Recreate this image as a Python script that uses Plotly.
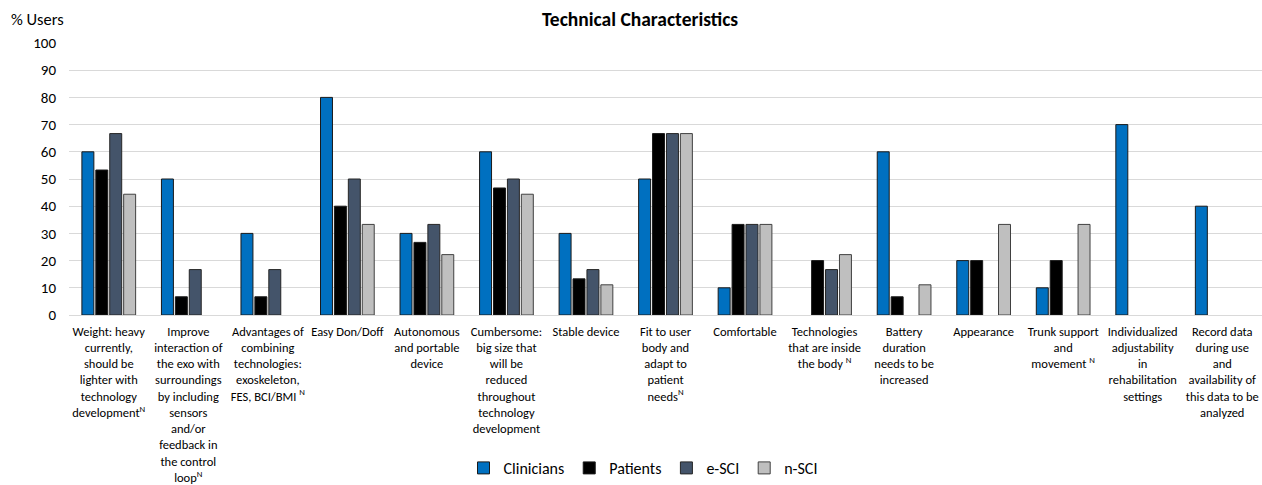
import plotly.graph_objects as go

# Technical characteristics of exoskeleton technologies, % of users per group
categories = [
    "Weight: heavy<br>currently,<br>should be<br>lighter with<br>technology<br>development<sup>N</sup>",
    "Improve<br>interaction of<br>the exo with<br>surroundings<br>by including<br>sensors<br>and/or<br>feedback in<br>the control<br>loop<sup>N</sup>",
    "Advantages of<br>combining<br>technologies:<br>exoskeleton,<br>FES, BCI/BMI <sup>N</sup>",
    "Easy Don/Doff",
    "Autonomous<br>and portable<br>device",
    "Cumbersome:<br>big size that<br>will be<br>reduced<br>throughout<br>technology<br>development",
    "Stable device",
    "Fit to user<br>body and<br>adapt to<br>patient<br>needs<sup>N</sup>",
    "Comfortable",
    "Technologies<br>that are inside<br>the body <sup>N</sup>",
    "Battery<br>duration<br>needs to be<br>increased",
    "Appearance",
    "Trunk support<br>and<br>movement <sup>N</sup>",
    "Individualized<br>adjustability<br>in<br>rehabilitation<br>settings",
    "Record data<br>during use<br>and<br>availability of<br>this data to be<br>analyzed",
]

clinicians = [60, 50, 30, 80, 30, 60, 30, 50, 10, 0, 60, 20, 10, 70, 40]
patients = [53.3, 6.7, 6.7, 40, 26.7, 46.7, 13.3, 66.7, 33.3, 20, 6.7, 20, 20, 0, 0]
e_sci = [66.7, 16.7, 16.7, 50, 33.3, 50, 16.7, 66.7, 33.3, 16.7, 0, 0, 0, 0, 0]
n_sci = [44.4, 0, 0, 33.3, 22.2, 44.4, 11.1, 66.7, 33.3, 22.2, 11.1, 33.3, 33.3, 0, 0]

series = [
    ("Clinicians", clinicians, "#0070C0", "#1a1a1a"),
    ("Patients", patients, "#000000", "#1a1a1a"),
    ("e-SCI", e_sci, "#44546A", "#262626"),
    ("n-SCI", n_sci, "#BFBFBF", "#404040"),
]

FONT = "Carlito, Calibri, Lato, sans-serif"

fig = go.Figure()
for name, vals, color, edge in series:
    fig.add_trace(go.Bar(
        name=name,
        x=list(range(len(categories))),
        y=vals,
        # no outline on empty (zero) bars so they stay invisible
        marker=dict(color=color,
                    line=dict(color=edge, width=[1 if v > 0 else 0 for v in vals])),
    ))

W, H = 1262, 485
ml, mr, mt, mb = 69, 0, 43, 170
plot_w = W - ml - mr
plot_h = H - mt - mb

fig.update_layout(
    width=W, height=H,
    margin=dict(l=ml, r=mr, t=mt, b=mb),
    paper_bgcolor="white",
    plot_bgcolor="white",
    font=dict(family=FONT, color="#000000"),
    barmode="group",
    bargap=0.3,
    bargroupgap=0.14,
    title=dict(
        text="<b>Technical Characteristics</b>",
        x=640 / W, xanchor="center",
        y=1 - 19 / H, yanchor="middle",
        font=dict(size=19.5, family=FONT, color="#000000"),
    ),
    legend=dict(
        orientation="h",
        x=(643 - ml) / plot_w, xanchor="center",
        y=-(468 - (mt + plot_h)) / plot_h, yanchor="middle",
        font=dict(size=16, family=FONT, color="#000000"),
        itemwidth=30,
        traceorder="normal",
    ),
    xaxis=dict(
        tickmode="array",
        tickvals=list(range(len(categories))),
        ticktext=categories,
        tickangle=0,
        tickfont=dict(size=12.5, family=FONT, color="#000000"),
        range=[-0.5, len(categories) - 0.5],
        showgrid=False,
        showline=False,
        ticks="",
        ticklabelstandoff=7,
        automargin=False,
    ),
    yaxis=dict(
        range=[0, 100],
        dtick=10,
        tickfont=dict(size=15, family=FONT, color="#000000"),
        gridcolor="#D9D9D9",
        gridwidth=1,
        zeroline=True,
        zerolinecolor="#D9D9D9",
        zerolinewidth=1,
        showline=False,
        ticks="",
        ticklabelstandoff=12,
        automargin=False,
    ),
    annotations=[
        dict(
            text="% Users",
            xref="paper", yref="paper",
            x=(9 - ml) / plot_w, xanchor="left",
            y=(mt + plot_h - 19) / plot_h, yanchor="middle",
            showarrow=False,
            font=dict(size=16.5, family=FONT, color="#000000"),
        )
    ],
)

fig.write_html("out.html")
